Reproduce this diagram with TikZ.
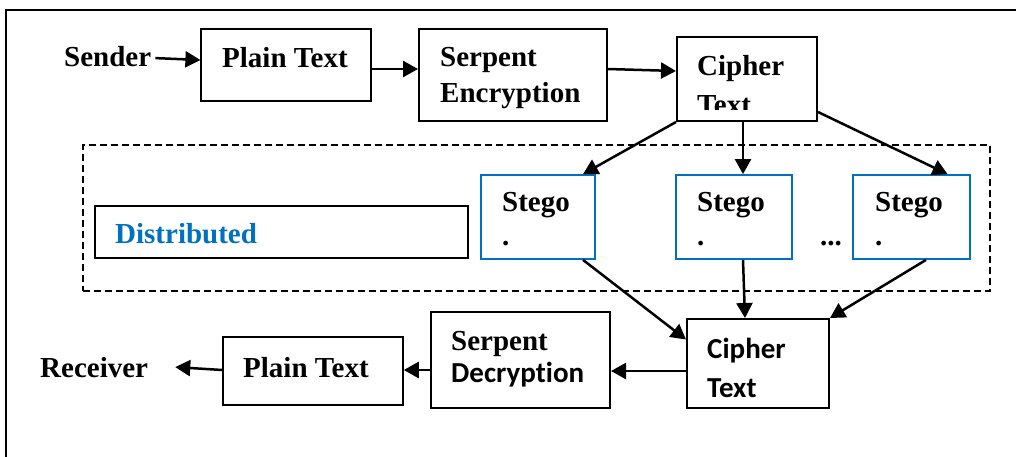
\documentclass[tikz,border=0pt]{standalone}
\usepackage{fontspec}
\setmainfont{Liberation Serif}
\newfontfamily\calfont[Ligatures=NoCommon]{Carlito}
\usetikzlibrary{arrows.meta}
\definecolor{dblue}{RGB}{0,112,192}
\begin{document}
\begin{tikzpicture}[x=1pt,y=-1pt,
  thinbox/.style={draw, line width=1.2pt, inner sep=0pt},
  thickbox/.style={draw, line width=2pt, inner sep=0pt},
  sbox/.style={draw=dblue, line width=1.8pt, inner sep=0pt},
  lbl/.style={font=\fontsize{29}{34}\selectfont\bfseries, inner sep=0pt, anchor=base west},
  clbl/.style={font=\fontsize{29}{34}\selectfont\calfont\bfseries, inner sep=0pt, anchor=base west},
  arr/.style={line width=2.5pt, -{Triangle[length=15pt,width=16pt]}}]
\useasboundingbox (0,0) rectangle (1016,456);
% outer frame
\draw[line width=2.5pt] (1020,10) -- (6,10) -- (6,460);
% dashed region
\node[draw, dashed, line width=1.5pt, dash pattern=on 7pt off 4pt, minimum width=907pt, minimum height=146pt, inner sep=0pt] (region) at (536.5,218) {};
% boxes
\node[thinbox, minimum width=170pt, minimum height=72pt] (pt1) at (286,65) {};
\node[thickbox, minimum width=188pt, minimum height=92pt] (se) at (513,75) {};
\node[thickbox, minimum width=140pt, minimum height=84pt] (ct1) at (747,79) {};
\node[thickbox, line width=1.5pt, minimum width=373pt, minimum height=52pt] (dist) at (281.5,232) {};
\node[sbox, minimum width=114pt, minimum height=84pt] (st1) at (538,217) {};
\node[sbox, minimum width=116pt, minimum height=84pt] (st2) at (734,217) {};
\node[sbox, minimum width=117pt, minimum height=84pt] (st3) at (911.5,217) {};
\node[thickbox, minimum width=179pt, minimum height=96pt] (cd) at (520.5,360) {};
\node[thickbox, minimum width=142pt, minimum height=89pt] (ct2) at (758,363.5) {};
\node[thinbox, line width=1.5pt, minimum width=180pt, minimum height=68pt] (pt2) at (313,371) {};
% texts
\node[lbl] (sender) at (64,66) {Sender};
\node[lbl] (pt1t) at (222,67) {Plain Text};
\node[lbl] (se1) at (440,66) {Serpent};
\node[lbl] (se2) at (440,102) {Encryption};
\node[lbl] (ct1a) at (697,75) {Cipher};
\begin{scope}
\clip (677,37) rectangle (817,109);
\node[lbl] (ct1b) at (697,114) {Text};
\end{scope}
\node[lbl, text=dblue] (distt) at (115,243) {Distributed};
\node[lbl] (st1a) at (502,211) {Stego};
\node[lbl] (st1b) at (502,245) {.};
\node[lbl] (st2a) at (697,211) {Stego};
\node[lbl] (st2b) at (697,245) {.};
\node[lbl] (st3a) at (875,211) {Stego};
\node[lbl] (st3b) at (875,245) {.};
\node[lbl] (dots) at (820,245) {...};
\node[lbl] (rcv) at (40,377) {Receiver};
\node[lbl] (pt2t) at (243,377) {Plain Text};
\node[lbl] (cd1) at (451,350) {Serpent};
\node[clbl] (cd2) at (451,382) {Decrypt\kern0pt ion};
\node[clbl] (ct2a) at (707,358) {Cipher};
\node[clbl] (ct2b) at (707,397) {Text};
% connectors
\draw[arr] ([xshift=4pt,yshift=-2pt]sender.east) -- ([yshift=5pt]pt1.west);
\draw[arr] ([yshift=-4pt]pt1.east) -- ([yshift=6pt]se.west);
\draw[arr] ([yshift=6pt]se.east) -- ([yshift=8pt]ct1.west);
\draw[arr] (ct1.south west) -- ([xshift=45pt]st1.north);
\draw[arr] ([xshift=-4pt]ct1.south) -- ([xshift=9pt]st2.north);
\draw[arr] ([yshift=-33pt]ct1.east) -- ([xshift=36pt]st3.north);
\draw[arr] ([xshift=45pt]st1.south) -- ([yshift=24pt]ct2.west);
\draw[arr] ([xshift=9pt]st2.south) -- ([xshift=-13pt]ct2.north);
\draw[arr] ([xshift=14.5pt]st3.south) -- (ct2.north east);
\draw[arr] ([yshift=-7.5pt]ct2.west) -- ([yshift=-11pt]cd.east);
\draw[arr] ([yshift=-10pt]cd.west) -- ([yshift=1pt]pt2.east);
\draw[arr] ([yshift=1pt]pt2.west) -- ([xshift=27pt]rcv.east);
\end{tikzpicture}
\end{document}
